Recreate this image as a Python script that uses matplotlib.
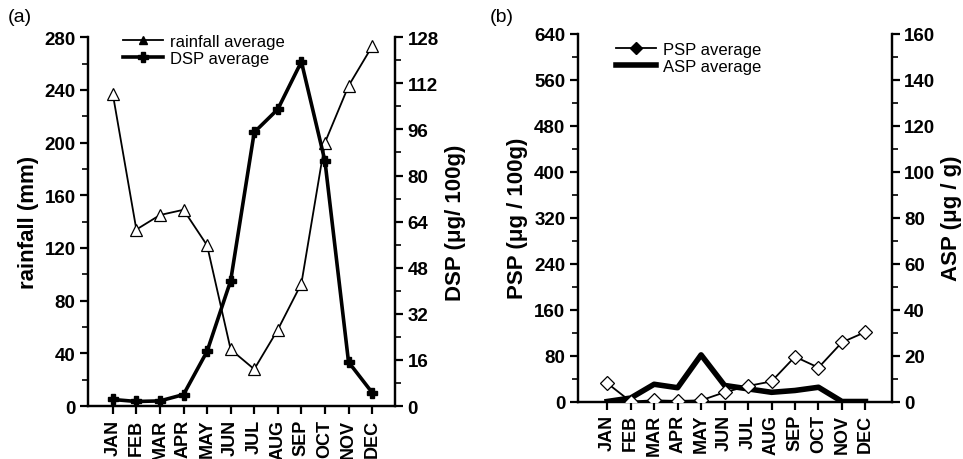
import matplotlib
matplotlib.use("Agg")
import matplotlib.pyplot as plt
from matplotlib.lines import Line2D
from matplotlib.ticker import MultipleLocator

plt.rcParams['font.family'] = ['Liberation Sans', 'DejaVu Sans']

months = ['JAN', 'FEB', 'MAR', 'APR', 'MAY', 'JUN', 'JUL', 'AUG', 'SEP', 'OCT', 'NOV', 'DEC']

# panel (a)
rainfall = [237, 134, 145, 149, 122, 43, 28, 58, 93, 200, 243, 273]
dsp = [2.3, 1.6, 1.8, 4.0, 19.0, 43.5, 95, 103, 119.5, 85, 15.3, 4.7]

# panel (b)
psp = [32, 0, 2, 1, 2, 16, 27, 35, 78, 59, 103, 121]
asp = [0, 1.5, 7.5, 6.0, 20.3, 7.0, 5.5, 4.0, 4.8, 6.2, 0, 0]

x = list(range(len(months)))

fig = plt.figure(figsize=(9.63, 4.6), dpi=100)


def style_axes(ax, ax2):
    ax.spines['top'].set_visible(False)
    ax2.spines['top'].set_visible(False)
    for a in (ax, ax2):
        for s in a.spines.values():
            s.set_linewidth(1.6)
        a.tick_params(which='major', length=6, width=1.6, labelsize=13.5, direction='out', pad=3)
        a.tick_params(which='minor', length=4, width=1.2, direction='out')
        for lab in a.get_yticklabels():
            lab.set_fontweight('bold')
    ax.set_xticks(x)
    ax.set_xticklabels(months, rotation=90, fontsize=13, fontweight='bold')


# ---- (a)
ax = fig.add_axes([0.0914, 0.115, 0.319, 0.802])
ax2 = ax.twinx()
ax.plot(x, rainfall, color='black', lw=1.3, marker='^', ms=8, mfc='white', mec='black', mew=0.9, zorder=3)
ax2.plot(x, dsp, color='black', lw=2.6, marker='P', ms=7.5, mfc='black', mec='black')
ax.set_xlim(-1.05, 11.98)
ax.set_ylim(0, 280)
ax2.set_ylim(0, 128)
ax.yaxis.set_major_locator(MultipleLocator(40))
ax.yaxis.set_minor_locator(MultipleLocator(20))
ax2.yaxis.set_major_locator(MultipleLocator(16))
ax2.yaxis.set_minor_locator(MultipleLocator(8))
style_axes(ax, ax2)
ax.set_ylabel('rainfall (mm)', fontsize=16, fontweight='bold', labelpad=4)
ax2.set_ylabel('DSP (μg/ 100g)', fontsize=16, fontweight='bold', rotation=90, labelpad=4)
handles = [Line2D([], [], color='black', lw=1.3, marker='^', ms=6, mfc='black'),
           Line2D([], [], color='black', lw=2.6, marker='P', ms=7, mfc='black')]
ax.legend(handles, ['rainfall average', 'DSP average'], loc='upper left',
          bbox_to_anchor=(0.065, 1.05), frameon=False, fontsize=12,
          handlelength=2.4, handletextpad=0.4, labelspacing=0.15)
fig.text(0.008, 0.952, '(a)', fontsize=14)

# ---- (b)
bx = fig.add_axes([0.600, 0.125, 0.326, 0.799])
bx2 = bx.twinx()
bx.plot(x, psp, color='black', lw=1.3, marker='D', ms=7, mfc='white', mec='black', mew=0.9, zorder=3)
bx2.plot(x, asp, color='black', lw=4.0)
bx.set_xlim(-1.25, 12.12)
bx.set_ylim(0, 640)
bx2.set_ylim(0, 160)
bx.yaxis.set_major_locator(MultipleLocator(80))
bx.yaxis.set_minor_locator(MultipleLocator(40))
bx2.yaxis.set_major_locator(MultipleLocator(20))
bx2.yaxis.set_minor_locator(MultipleLocator(10))
style_axes(bx, bx2)
bx.set_zorder(bx2.get_zorder() + 1)
bx.patch.set_visible(False)
bx.set_ylabel('PSP (μg / 100g)', fontsize=16, fontweight='bold', labelpad=4)
bx2.set_ylabel('ASP (μg / g)', fontsize=16, fontweight='bold', rotation=90, labelpad=4)
handles = [Line2D([], [], color='black', lw=1.3, marker='D', ms=6, mfc='black'),
           Line2D([], [], color='black', lw=4.0)]
bx.legend(handles, ['PSP average', 'ASP average'], loc='upper left',
          bbox_to_anchor=(0.075, 1.02), frameon=False, fontsize=12,
          handlelength=2.4, handletextpad=0.4, labelspacing=0.15)
fig.text(0.509, 0.952, '(b)', fontsize=14)

fig.savefig('out.png', dpi=100)
